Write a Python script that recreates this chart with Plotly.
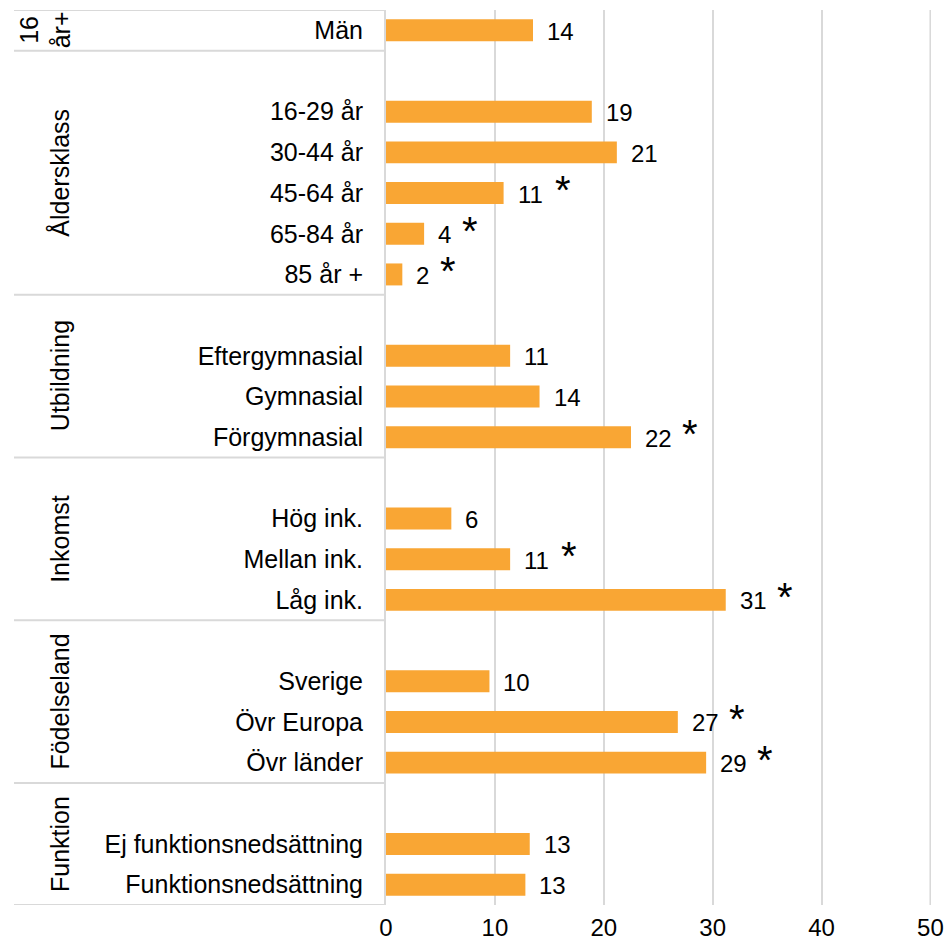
import plotly.graph_objects as go

# Rows from top to bottom ("" = spacer row)
categories = ["Män", "", "16-29 år", "30-44 år", "45-64 år", "65-84 år", "85 år +", "",
              "Eftergymnasial", "Gymnasial", "Förgymnasial", "",
              "Hög ink.", "Mellan ink.", "Låg ink.", "",
              "Sverige", "Övr Europa", "Övr länder", "",
              "Ej funktionsnedsättning", "Funktionsnedsättning"]
values = [13.5, None, 18.9, 21.2, 10.8, 3.5, 1.5, None,
          11.4, 14.1, 22.5, None,
          6.0, 11.4, 31.2, None,
          9.5, 26.8, 29.4, None,
          13.2, 12.8]
labels = ["14", "", "19", "21", "11", "4", "2", "",
          "11", "14", "22", "",
          "6", "11", "31", "",
          "10", "27", "29", "",
          "13", "13"]
significant = [False, False, False, False, True, True, True, False,
               False, False, True, False,
               False, True, True, False,
               False, True, True, False,
               False, False]
# groups: (label, first row, last row) — boundaries include the spacer row above
groups = [("16<br>år+", 0, 0), ("Åldersklass", 1, 6), ("Utbildning", 7, 10),
          ("Inkomst", 11, 14), ("Födelseland", 15, 18), ("Funktion", 19, 21)]
x_ticks = [0, 10, 20, 30, 40, 50]

FONT = "Liberation Sans, Arial, sans-serif"
FS = 25
BAR = "#F9A634"
LINE = "#D9D9D9"

W, H = 946, 943
ML, MR, MT, MB = 386, 15, 10, 38
DW = W - ML - MR

rows = list(range(len(categories)))
bx = [v if v is not None else 0 for v in values]

fig = go.Figure()
fig.add_trace(go.Bar(
    x=bx, y=rows, orientation="h",
    marker=dict(color=BAR, line=dict(width=0)),
    width=0.54, hoverinfo="skip", showlegend=False))

annotations = []
for r, (v, lab, sig) in enumerate(zip(values, labels, significant)):
    if v is None:
        continue
    annotations.append(dict(x=v, y=r, xref="x", yref="y", text=lab, showarrow=False,
                            xanchor="left", yanchor="middle", xshift=12, yshift=-1,
                            font=dict(family=FONT, size=24, color="black")))
    if sig:
        annotations.append(dict(x=v, y=r, xref="x", yref="y", text="*", showarrow=False,
                                xanchor="left", yanchor="middle",
                                xshift=12 + 13.5 * len(lab) + 10, yshift=3,
                                font=dict(family=FONT, size=40, color="black")))

# table columns in paper coords
x_left = (14 - ML) / DW
shapes = []
bounds = [-0.5] + [g[2] + 0.5 for g in groups]
for b in bounds:
    shapes.append(dict(type="line", xref="paper", yref="y", x0=x_left, x1=0, y0=b, y1=b,
                       line=dict(color=LINE, width=2)))
# gridline at the right end of the value axis
shapes.append(dict(type="line", xref="x", yref="paper", x0=x_ticks[-1], x1=x_ticks[-1],
                   y0=0, y1=1, layer="below", line=dict(color=LINE, width=2)))
for name, a, b in groups:
    cx = 45 if "<br>" in name else 60
    annotations.append(dict(x=(cx - ML) / DW, y=(a - 0.5 + b + 0.5) / 2,
                            xref="paper", yref="y", text=name, showarrow=False,
                            textangle=-90, xanchor="center", yanchor="middle",
                            font=dict(family=FONT, size=FS, color="black")))

fig.update_layout(
    width=W, height=H,
    margin=dict(l=ML, r=MR, t=MT, b=MB),
    paper_bgcolor="white", plot_bgcolor="white",
    xaxis=dict(range=[0, 50.05], tickvals=x_ticks, showgrid=True, gridcolor=LINE, gridwidth=2,
               zeroline=False, showline=False, ticks="", ticklabelstandoff=6,
               automargin=False,
               tickfont=dict(family=FONT, size=24, color="black")),
    yaxis=dict(range=[len(categories) - 0.5, -0.5], tickvals=rows, ticktext=categories,
               showgrid=False, zeroline=False, showline=True, linecolor=LINE, linewidth=2,
               ticks="", ticklabelstandoff=16, automargin=False,
               tickfont=dict(family=FONT, size=FS, color="black")),
    shapes=shapes, annotations=annotations,
)
fig.write_html("out.html", config={"displayModeBar": False},
               post_script="document.body.style.margin='0';")
